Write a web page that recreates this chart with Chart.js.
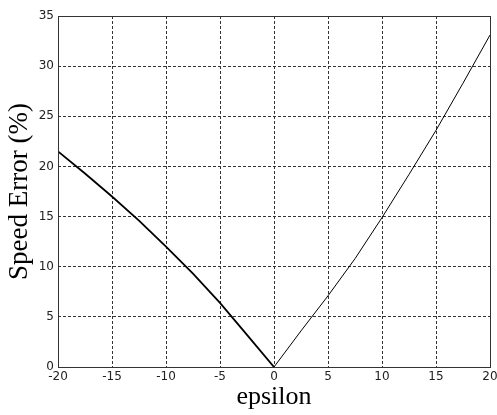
<!DOCTYPE html>
<html>
<head>
<meta charset="utf-8">
<script src="https://cdn.jsdelivr.net/npm/chart.js@4/dist/chart.umd.min.js"></script>
<style>
  html, body { margin: 0; padding: 0; background: #fff; }
  #wrap { width: 497px; height: 415px; }
</style>
</head>
<body>
<div id="wrap"><canvas id="grafico" width="497" height="415"></canvas></div>
<script>
// valores
const epsilon = [-20, -17.5, -15, -12.5, -10, -7.5, -5, -2.5, 0, 2.5, 5, 7.5, 10, 12.5, 15, 17.5, 20];
const errorVel = [21.5, 19.3, 17.0, 14.6, 12.0, 9.3, 6.4, 3.2, 0, 3.6, 7.1, 10.8, 14.9, 19.2, 23.6, 28.3, 33.1];
const xTicks = [-20, -15, -10, -5, 0, 5, 10, 15, 20];
const yTicks = [0, 5, 10, 15, 20, 25, 30, 35];

const puntos = epsilon.map((e, i) => ({ x: e, y: errorVel[i] }));

const marco = {
  id: "marco",
  afterDraw(chart) {
    const { ctx, chartArea: a } = chart;
    ctx.save();
    ctx.strokeStyle = "#333";
    ctx.lineWidth = 1;
    ctx.setLineDash([]);
    ctx.strokeRect(Math.round(a.left) + 0.5, Math.round(a.top) + 0.5,
      Math.round(a.right - a.left), Math.round(a.bottom - a.top));
    ctx.restore();
  }
};

const ctx = document.getElementById("grafico").getContext("2d");
new Chart(ctx, {
  type: "line",
  data: {
    datasets: [{
      data: puntos,
      borderColor: "#000",
      borderWidth: 1,
      pointRadius: 0,
      tension: 0,
      segment: {
        borderWidth: c => c.p0.parsed.x < 0 ? 1.8 : 1
      }
    }]
  },
  options: {
    responsive: false,
    animation: false,
    plugins: { legend: { display: false }, tooltip: { enabled: false } },
    layout: { padding: { left: 0, right: 0, top: 16, bottom: 0 } },
    scales: {
      x: {
        type: "linear",
        min: -20, max: 20,
        afterBuildTicks: s => { s.ticks = xTicks.map(v => ({ value: v })); },
        afterFit: s => { s.height = 48; s.paddingRight = 7; },
        grid: { color: "#333", lineWidth: 1, drawTicks: false },
        border: { display: false, dash: [3, 2] },
        ticks: { color: "#222", padding: 3, font: { family: "DejaVu Sans", size: 12 } },
        title: {
          display: true, text: "epsilon", color: "#000", padding: { top: 2, bottom: 2 },
          font: { family: "Liberation Serif", size: 26 }
        }
      },
      y: {
        min: 0, max: 35,
        afterBuildTicks: s => { s.ticks = yTicks.map(v => ({ value: v })); },
        afterFit: s => { s.width = 58; },
        grid: { color: "#333", lineWidth: 1, drawTicks: false },
        border: { display: false, dash: [3, 2] },
        ticks: { color: "#222", padding: 4, font: { family: "DejaVu Sans", size: 12 } },
        title: {
          display: true, text: "Speed Error (%)", color: "#000", padding: { top: 4, bottom: 2 },
          font: { family: "Liberation Serif", size: 27 }
        }
      }
    }
  },
  plugins: [marco]
});
</script>
</body>
</html>
